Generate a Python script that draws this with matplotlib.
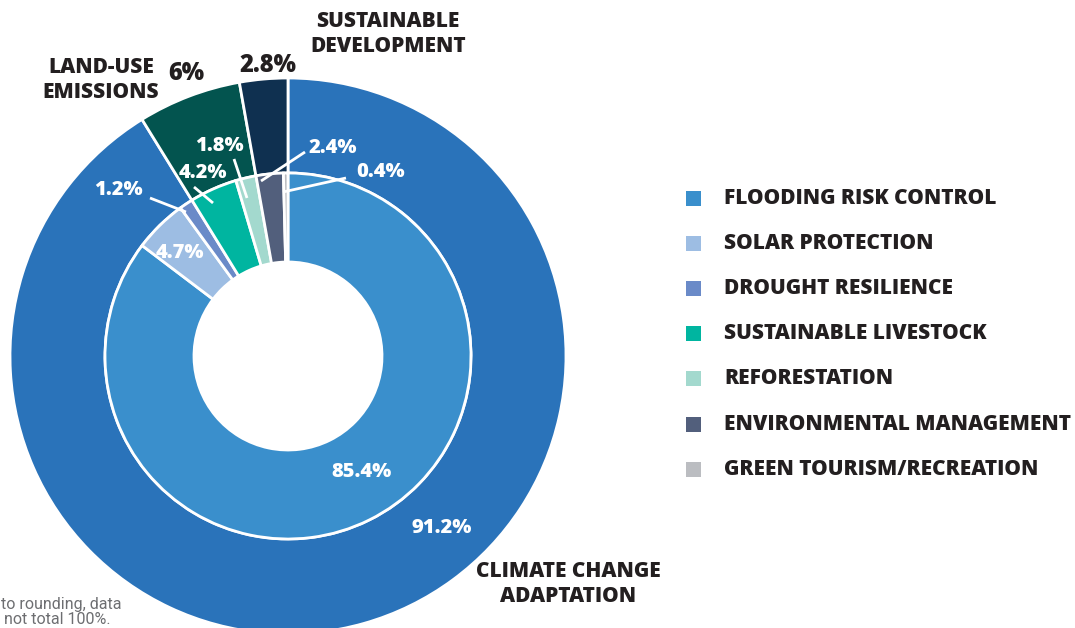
import matplotlib.pyplot as plt

# Outer ring: main categories
outer_labels = ["CLIMATE CHANGE\nADAPTATION", "LAND-USE\nEMISSIONS", "SUSTAINABLE\nDEVELOPMENT"]
outer_values = [91.2, 6.0, 2.8]
outer_colors = ["#2A73BA", "#03544F", "#0F3050"]

# Inner ring: sub-categories
inner_labels = ["FLOODING RISK CONTROL", "SOLAR PROTECTION", "DROUGHT RESILIENCE",
                "SUSTAINABLE LIVESTOCK", "REFORESTATION", "ENVIRONMENTAL MANAGEMENT",
                "GREEN TOURISM/RECREATION"]
inner_values = [85.4, 4.7, 1.2, 4.2, 1.8, 2.4, 0.4]
inner_colors = ["#3A8FCC", "#9DBDE3", "#6A8AC8", "#00B5A0", "#A3D9CE", "#525F7C", "#BBBDC1"]

footnote = ["to rounding, data", "not total 100%."]

W, H = 1075, 628
FONT = "Open Sans"
DARK = "#231F20"

fig = plt.figure(figsize=(W / 100, H / 100), dpi=100)
ax = fig.add_axes([0, 0, 1, 1])

cx, cy = 288, H - 356
r_out, r_mid, r_in = 278, 183, 94

ax.pie(outer_values, colors=outer_colors, radius=r_out, center=(cx, cy),
       startangle=90, counterclock=False,
       wedgeprops=dict(width=r_out - r_mid, edgecolor="white", linewidth=2))
ax.pie(inner_values, colors=inner_colors, radius=r_mid, center=(cx, cy),
       startangle=90, counterclock=False,
       wedgeprops=dict(width=r_mid - r_in, edgecolor="white", linewidth=2))

ax.set_xlim(0, W)
ax.set_ylim(0, H)
ax.set_aspect("equal")
ax.axis("off")


def pct(v):
    return f"{v:g}%"


def txt(x, y, s, color="white", size=14.5, ha="center"):
    ax.text(x, H - y, s, color=color, fontsize=size, fontweight="heavy",
            family=FONT, ha=ha, va="center", linespacing=1.25)


def leader(x0, y0, x1, y1):
    ax.plot([x0, x1], [H - y0, H - y1], color="white", lw=2, solid_capstyle="butt")


# inner ring values
txt(362, 472, pct(inner_values[0]))
txt(180, 253, pct(inner_values[1]))
txt(118, 190, pct(inner_values[2]))
leader(150, 198, 186, 212)
txt(203, 173, pct(inner_values[3]))
leader(194, 187, 213, 203)
txt(219, 146, pct(inner_values[4]))
leader(234, 159, 247, 198)
txt(333, 148, pct(inner_values[5]))
leader(305, 152, 261, 181)
txt(381, 172, pct(inner_values[6]))
leader(346, 178, 283, 192)

# outer ring values and names
txt(442, 528, pct(outer_values[0]))
txt(186, 73, pct(outer_values[1]), color=DARK, size=17)
txt(268, 66, pct(outer_values[2]), color=DARK, size=17)
txt(568, 584, outer_labels[0], color=DARK, size=15)
txt(101, 80, outer_labels[1], color=DARK, size=15)
txt(388, 34, outer_labels[2], color=DARK, size=15)

# legend
for i, (lab, col) in enumerate(zip(inner_labels, inner_colors)):
    y = 198 + i * 45.2
    ax.add_patch(plt.Rectangle((686, H - y - 7.5), 15, 15, color=col, lw=0))
    txt(724, y, lab, color=DARK, size=15, ha="left")

# footnote
ax.text(1, H - 604, footnote[0], color="#6D6E71", fontsize=11.5,
        family="Roboto", ha="left", va="center")
ax.text(4, H - 619, footnote[1], color="#6D6E71", fontsize=11.5,
        family="Roboto", ha="left", va="center")

fig.savefig("out.png", dpi=100)
